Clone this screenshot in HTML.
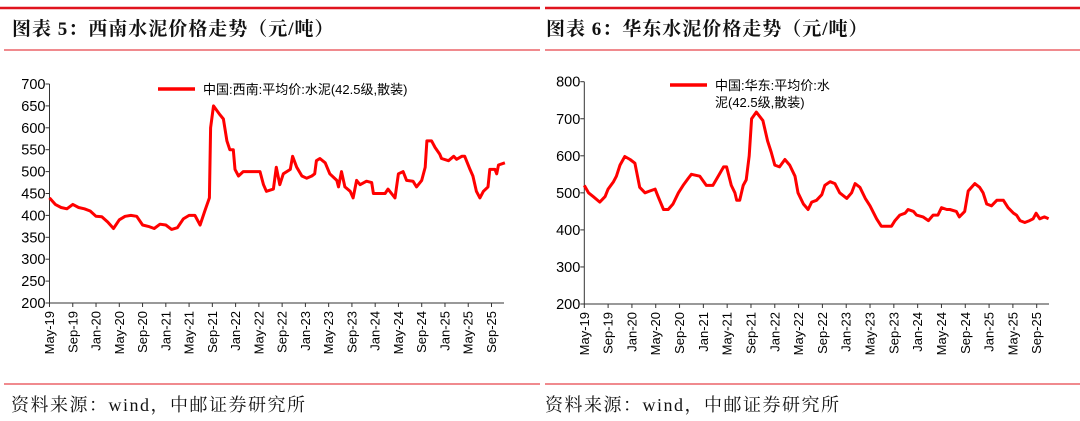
<!DOCTYPE html>
<html><head><meta charset="utf-8">
<style>
body{margin:0;background:#fff;width:1080px;height:421px;overflow:hidden}
svg{display:block}
.t{font-family:"Liberation Sans","Noto Sans CJK SC",sans-serif;fill:#000}
.ttl{font-family:"Liberation Serif","Noto Serif CJK SC",serif;font-weight:bold;font-size:19px;letter-spacing:1px;fill:#111}
.ft{font-family:"Liberation Serif","Noto Serif CJK SC",serif;font-size:18px;letter-spacing:1.5px;fill:#111}
</style></head><body>
<svg id="s" width="1080" height="421">
<line x1="0" y1="8" x2="540" y2="8" stroke="#e0141e" stroke-width="2.5"/>
<line x1="545" y1="8" x2="1080" y2="8" stroke="#e0141e" stroke-width="2.5"/>
<line x1="4" y1="50" x2="540" y2="50" stroke="#e0141e" stroke-width="1"/>
<line x1="545" y1="50" x2="1080" y2="50" stroke="#e0141e" stroke-width="1"/>
<line x1="4" y1="384" x2="540" y2="384" stroke="#e0141e" stroke-width="1"/>
<line x1="545" y1="384" x2="1080" y2="384" stroke="#e0141e" stroke-width="1"/>
<text class="ttl" x="12" y="35">图表 5：西南水泥价格走势（元/吨）</text>
<text class="ttl" x="546" y="35">图表 6：华东水泥价格走势（元/吨）</text>
<text class="ft" x="11" y="411">资料来源：wind，中邮证券研究所</text>
<text class="ft" x="545" y="411">资料来源：wind，中邮证券研究所</text>
</svg>
<script>
const xLabels=["May-19","Sep-19","Jan-20","May-20","Sep-20","Jan-21","May-21","Sep-21","Jan-22","May-22","Sep-22","Jan-23","May-23","Sep-23","Jan-24","May-24","Sep-24","Jan-25","May-25","Sep-25"];
const swMonths=[0,1,2,3,4,5,6,7,8,9,10,11,12,13,14,15,16,17,18,19,20,21,22,23,24,25,25.9,26.7,27.5,27.7,28.2,29.3,29.9,30.5,31,31.6,31.9,32.5,33.3,34.5,36.2,36.8,37.3,38.5,39,39.6,40.2,41.4,41.8,42.5,43.4,44.2,45.1,45.6,45.9,46.5,47.4,48.2,49.4,49.7,50.2,50.8,51.7,52.2,52.8,53.4,54.5,55.4,55.7,57.7,58.2,59.4,60,60.8,61.4,62.5,63.1,64,64.6,64.9,65.7,66.3,67.1,67.4,68.6,69.5,70,70.9,71.4,72.3,72.8,73.4,74,74.6,75.4,75.7,76.6,76.9,77.2,78.3];
const swValues=[440,425,418,415,425,418,415,410,398,397,385,370,390,398,400,398,378,375,370,380,378,368,372,392,400,400,378,410,440,600,650,630,620,570,550,550,505,490,500,500,500,470,455,460,510,470,495,505,535,510,490,485,490,495,525,530,520,495,480,465,500,465,455,440,480,470,478,475,450,450,460,440,495,500,480,478,465,480,510,570,570,555,540,530,525,535,528,535,535,505,490,455,440,455,465,505,505,495,515,520];
const swTicks=[200,250,300,350,400,450,500,550,600,650,700];
const ecMonths=[0,0.7,1.5,2.6,3.5,4,4.9,5.4,6,6.8,7.7,8.5,9.3,10.2,11,11.9,12.4,13.3,14.1,14.9,15.8,16.6,17.5,18,19.4,20.5,21.6,22.5,23.4,23.9,24.7,25.3,25.6,26.1,26.7,27.2,27.7,28.1,28.9,30,30.8,31.4,32,32.8,33.7,34.5,35.4,35.9,36.8,37.6,38.2,39,39.9,40.4,41.3,42.1,42.9,44.1,44.9,45.5,46.3,47.2,48,49.1,49.9,50.8,51.6,52.2,53,53.9,54.4,55.3,55.8,56.9,57.8,58.6,59.4,60,60.9,61.4,62.5,63,63.9,64.5,65.6,66.4,67,67.6,68.4,69.3,70.4,71.2,72.1,72.6,73.2,74,74.8,75.4,75.9,76.5,77.3,78];
const ecValues=[520,500,490,475,490,510,530,545,575,598,590,580,515,500,505,510,490,455,455,470,500,520,540,550,545,520,520,545,570,570,520,500,480,480,520,535,600,700,718,695,640,610,575,570,590,575,545,500,470,455,475,480,495,520,530,525,500,485,500,525,515,485,465,430,410,410,410,425,440,445,455,450,440,435,425,440,440,460,455,455,450,435,450,505,525,515,500,470,465,480,480,460,445,440,425,420,425,430,445,430,435,430];
const ecTicks=[200,300,400,500,600,700,800];
const NS='http://www.w3.org/2000/svg';
const svg=document.getElementById('s');
function mk(tag,attrs,txt){const e=document.createElementNS(NS,tag);for(const k in attrs)e.setAttribute(k,attrs[k]);if(txt!==undefined)e.textContent=txt;svg.appendChild(e);return e;}
function chart(o){
 const xs=m=>o.x0+m*o.pm;
 const ys=v=>o.yb-(v-o.vmin)/(o.vmax-o.vmin)*(o.yb-o.yt);
 let a=mk('line',{x1:o.x0,y1:o.yt,x2:o.x0,y2:o.yb,stroke:'#333','stroke-width':1});
 
 
 a=mk('line',{x1:o.x0,y1:o.yb,x2:o.xe,y2:o.yb,stroke:'#333','stroke-width':1});
 
 
 o.ticks.forEach(v=>{
  let t=mk('line',{x1:o.x0-4,y1:ys(v),x2:o.x0,y2:ys(v),stroke:'#333'});
  
  
  let l=mk('text',{class:'t',x:o.x0-4,y:ys(v)+5,'text-anchor':'end','font-size':14.5},v);
  
  
 });
 xLabels.forEach((s,i)=>{
  const x=xs(i*4);
  let t=mk('line',{x1:x,y1:o.yb,x2:x,y2:o.yb+4,stroke:'#333'});
  
  
  let l=mk('text',{class:'t',x:0,y:0,'text-anchor':'end','font-size':13,transform:`translate(${x+4.5},${o.yb+8}) rotate(-90)`},s);
  
  
 });
 const d=o.m.map((m,i)=>(i?'L':'M')+xs(m).toFixed(1)+','+ys(o.v[i]).toFixed(1)).join('');
 let p=mk('path',{d:d,fill:'none',stroke:'#ff0000','stroke-width':3,'stroke-linejoin':'round'});
 
 
 let ll=mk('line',{x1:o.lx,y1:o.ly,x2:o.lx+37,y2:o.ly,stroke:'#ff0000','stroke-width':3.5});
 
 
 o.lt.forEach((s,i)=>{
  let lt=mk('text',{class:'t',x:o.lx+45,y:o.ly+5+i*17,'font-size':13,fill:'#222'},s);
  
  
 });
}
chart({p:'chart5',x0:49.5,xe:504,pm:(491.5-49.5)/76,yt:84,yb:303,vmin:200,vmax:700,ticks:swTicks,m:swMonths,v:swValues,lx:158,ly:89,lt:['中国:西南:平均价:水泥(42.5级,散装)']});
chart({p:'chart6',x0:584.3,xe:1049,pm:(1036.7-584.3)/76,yt:81.7,yb:304,vmin:200,vmax:800,ticks:ecTicks,m:ecMonths,v:ecValues,lx:670,ly:85,lt:['中国:华东:平均价:水','泥(42.5级,散装)']});
</script>
</body></html>
